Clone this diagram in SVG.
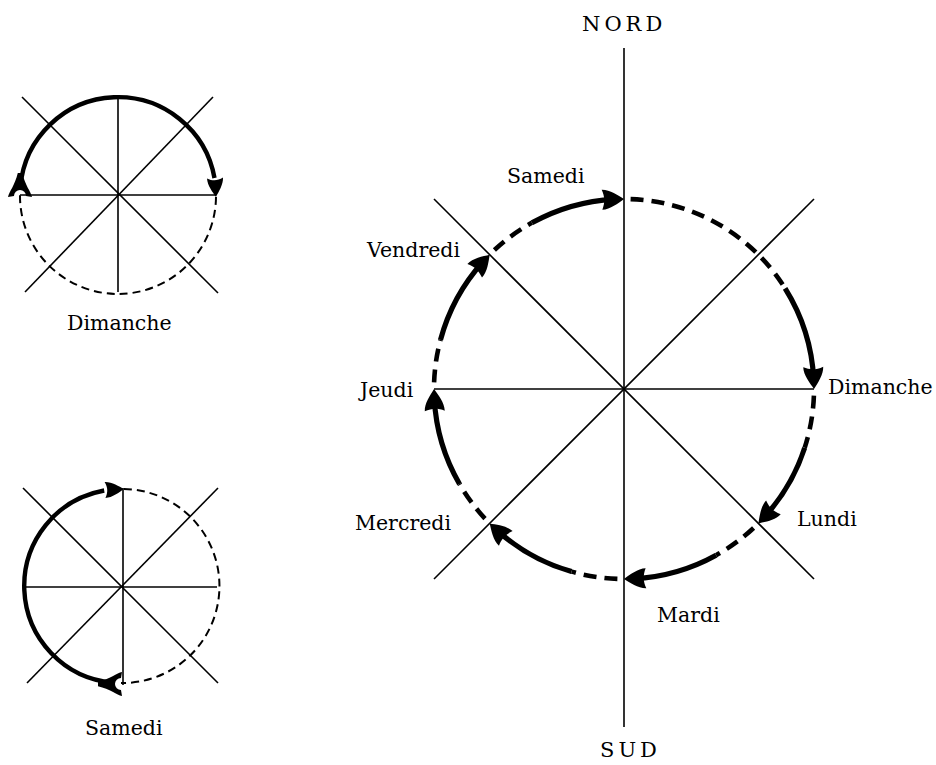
<svg xmlns="http://www.w3.org/2000/svg" width="936" height="765" viewBox="0 0 936 765">
<style>
.axis{stroke:#000;stroke-width:1.6;fill:none}
.solid{stroke:#000;stroke-width:5.2;fill:none}
.dash{stroke:#000;stroke-width:4.6;fill:none;stroke-dasharray:13 8}
.ssolid{stroke:#000;stroke-width:4.4;fill:none}
.sdash{stroke:#000;stroke-width:2;fill:none;stroke-dasharray:8 5}
.head{fill:#000}
text{font-family:"DejaVu Serif","Liberation Serif",serif;font-size:20.5px;fill:#000}
.cap{font-size:21px;letter-spacing:4px}
</style>
<defs>
<path id="ah" d="M0,0 C-6,-4 -14,-10 -22,-10 C-19,-3 -19,3 -22,10 C-14,10 -6,4 0,0Z"/>
<path id="ahs" d="M0,0 C-5,-3 -12,-8 -19,-8 C-16,-2.5 -16,2.5 -19,8 C-12,8 -5,3 0,0Z"/>
<path id="tail" d="M0,-12 C5,-11 12,-5 24,-2.2 L24,2.2 C12,5 5,11 0,12 L1,6 A6 6 0 0 0 1,-6 Z"/>
</defs>
<rect width="936" height="765" fill="#fff"/>

<g id="dimanche-diagram">
  <g class="axis">
    <line x1="20" y1="195" x2="215" y2="195"/>
    <line x1="118" y1="95" x2="118" y2="292"/>
    <line x1="22" y1="97" x2="218" y2="293"/>
    <line x1="213" y1="97" x2="25" y2="292"/>
  </g>
  <g id="dimanche-path">
    <path class="ssolid" d="M20.4,186.5 A98 98 0 0 1 214.5,178"/>
    <path class="sdash" d="M216,197 A98 98 0 0 1 20,195"/>
    <use href="#ahs" class="head" transform="translate(216,197) rotate(87)"/>
    <use href="#tail" class="head" transform="translate(20,197) rotate(-90)"/>
  </g>
  <text x="67" y="330">Dimanche</text>
</g>

<g id="samedi-diagram">
  <g class="axis">
    <line x1="25" y1="587" x2="217" y2="587"/>
    <line x1="123" y1="488" x2="123" y2="685"/>
    <line x1="23" y1="488" x2="218" y2="683"/>
    <line x1="218" y1="488" x2="27" y2="683"/>
  </g>
  <g id="samedi-path">
    <path class="ssolid" d="M112.5,682.6 A97 97 0 0 1 104.2,490.5"/>
    <path class="sdash" d="M124,489 A97 97 0 0 1 121,683"/>
    <use href="#ahs" class="head" transform="translate(124,489) rotate(-3)"/>
    <use href="#tail" class="head" transform="translate(122,684) rotate(180)"/>
  </g>
  <text x="85" y="735">Samedi</text>
</g>

<g id="compass">
  <g class="axis">
    <line x1="624" y1="48" x2="624" y2="727"/>
    <line x1="434" y1="389" x2="814" y2="389"/>
    <line x1="434" y1="199" x2="814" y2="579"/>
    <line x1="814" y1="199" x2="434" y2="579"/>
  </g>
  <g id="nord"><text class="cap" x="582" y="31">NORD</text></g>
  <g id="sud"><text class="cap" x="600" y="757">SUD</text></g>
</g>

<g id="connectors">
  <path class="dash" d="M630.6,199.1 A190 190 0 0 1 785.1,288.3"/>
  <path class="solid" d="M785.1,288.3 A190 190 0 0 1 813.7,379.1"/>
  <path class="dash" d="M813.9,395.6 A190 190 0 0 1 804.7,447.7"/>
  <path class="solid" d="M804.7,447.7 A190 190 0 0 1 765.2,516.1"/>
  <path class="dash" d="M753.6,528 A190 190 0 0 1 716.1,555.2"/>
  <path class="solid" d="M716.1,555.2 A190 190 0 0 1 633.9,578.7"/>
  <path class="dash" d="M617.4,578.9 A190 190 0 0 1 571.6,571.6"/>
  <path class="solid" d="M571.6,571.6 A190 190 0 0 1 496.9,530.2"/>
  <path class="dash" d="M485,518.6 A190 190 0 0 1 459.5,484"/>
  <path class="solid" d="M459.5,484 A190 190 0 0 1 434.3,398.9"/>
  <path class="dash" d="M434.1,382.4 A190 190 0 0 1 440.5,339.8"/>
  <path class="solid" d="M440.5,339.8 A190 190 0 0 1 482.8,261.9"/>
  <path class="dash" d="M494.4,250 A190 190 0 0 1 531.9,222.8"/>
  <path class="solid" d="M531.9,222.8 A190 190 0 0 1 614.1,199.3"/>
  <use href="#ah" class="head" transform="translate(814,389) rotate(88)"/>
  <use href="#ah" class="head" transform="translate(758.4,523.4) rotate(133)"/>
  <use href="#ah" class="head" transform="translate(624,579) rotate(178)"/>
  <use href="#ah" class="head" transform="translate(489.7,523.4) rotate(223)"/>
  <use href="#ah" class="head" transform="translate(434,389) rotate(268)"/>
  <use href="#ah" class="head" transform="translate(489.7,254.7) rotate(313)"/>
  <use href="#ah" class="head" transform="translate(624,199) rotate(358)"/>
</g>

<g id="label-samedi"><text x="507" y="183">Samedi</text></g>
<g id="label-vendredi"><text x="367" y="257">Vendredi</text></g>
<g id="label-jeudi"><text x="360" y="397">Jeudi</text></g>
<g id="label-dimanche"><text x="828" y="394">Dimanche</text></g>
<g id="label-lundi"><text x="797" y="526">Lundi</text></g>
<g id="label-mercredi"><text x="355" y="530">Mercredi</text></g>
<g id="label-mardi"><text x="657" y="622">Mardi</text></g>
</svg>
